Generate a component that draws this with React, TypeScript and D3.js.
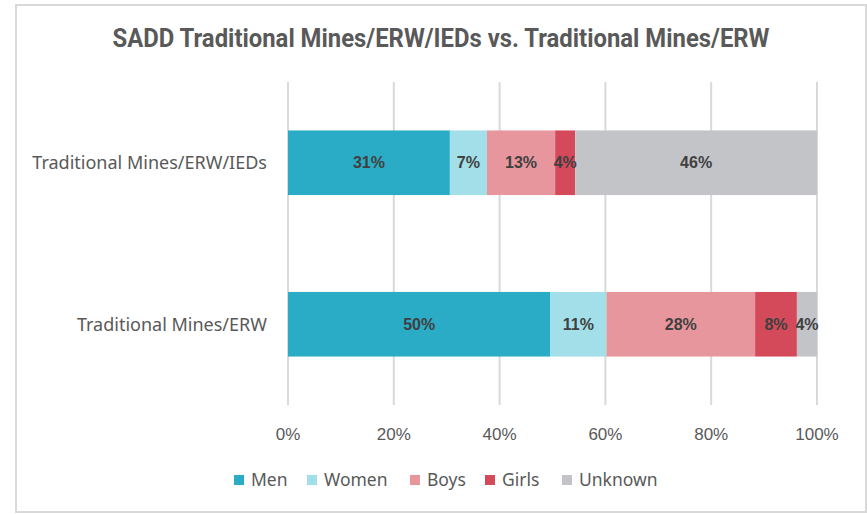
import * as d3 from 'd3'
import { useRef, useEffect } from 'react'

const categories = ['Traditional Mines/ERW/IEDs', 'Traditional Mines/ERW']
const groups = ['Men', 'Women', 'Boys', 'Girls', 'Unknown']
const colors = ['#2BACC6', '#A2DFE8', '#E7969D', '#D44A5A', '#C3C4C8']
// share of casualties (%) per group, one array per category
const minesErwIeds = [30.6, 7.0, 12.9, 3.8, 45.7]
const minesErw = [49.6, 10.6, 28.1, 7.9, 3.8]
const xTicks = [0, 20, 40, 60, 80, 100]

const W = 867
const H = 514

export default function App() {
  const svgRef = useRef<SVGSVGElement>(null)

  useEffect(() => {
    const svg = d3.select(svgRef.current)
    svg.selectAll('*').remove()

    const margins = { left: 288, right: 50, top: 82, bottom: 109 }
    const widthPlot = W - margins.left - margins.right
    const heightPlot = H - margins.top - margins.bottom

    // chart frame
    svg.append('rect')
      .attr('x', 16).attr('y', 5)
      .attr('width', W - 17).attr('height', H - 7)
      .attr('fill', 'white')
      .attr('stroke', '#d9d9d9').attr('stroke-width', 2)

    svg.append('text')
      .attr('x', 441).attr('y', 47)
      .attr('text-anchor', 'middle')
      .attr('font-family', 'Roboto, sans-serif')
      .attr('font-weight', 'bold')
      .attr('font-size', 25)
      .attr('textLength', 657)
      .attr('lengthAdjust', 'spacingAndGlyphs')
      .attr('fill', '#595959')
      .text('SADD Traditional Mines/ERW/IEDs vs. Traditional Mines/ERW')

    const g = svg.append('g').attr('transform', `translate(${margins.left}, ${margins.top})`)

    const scaleX = d3.scaleLinear().domain([0, 100]).range([0, widthPlot])
    const scaleY = d3.scaleBand().domain(categories).range([0, heightPlot]).paddingInner(0.6).paddingOuter(0.3)

    // gridlines
    g.selectAll('.grid')
      .data(xTicks)
      .join('line')
      .attr('class', 'grid')
      .attr('x1', d => scaleX(d)).attr('x2', d => scaleX(d))
      .attr('y1', 0).attr('y2', heightPlot)
      .attr('stroke', '#d9d9d9').attr('stroke-width', 2)

    g.selectAll('.tick-label')
      .data(xTicks)
      .join('text')
      .attr('class', 'tick-label')
      .attr('x', d => scaleX(d))
      .attr('y', heightPlot + 35)
      .attr('text-anchor', 'middle')
      .attr('font-family', '"Liberation Sans", Arial, sans-serif')
      .attr('font-size', 17)
      .attr('fill', '#595959')
      .text(d => `${d}%`)

    const rows = [minesErwIeds, minesErw]
    const stacked = rows.map((vals, i) => {
      let acc = 0
      return vals.map((v, j) => {
        const seg = { cat: categories[i], group: j, x0: acc, x1: acc + v, v }
        acc += v
        return seg
      })
    }).flat()

    g.selectAll('.seg')
      .data(stacked)
      .join('rect')
      .attr('class', 'seg')
      .attr('x', d => scaleX(d.x0))
      .attr('width', d => scaleX(d.x1) - scaleX(d.x0))
      .attr('y', d => scaleY(d.cat)!)
      .attr('height', scaleY.bandwidth())
      .attr('fill', d => colors[d.group])

    g.selectAll('.seg-label')
      .data(stacked)
      .join('text')
      .attr('class', 'seg-label')
      .attr('x', d => scaleX((d.x0 + d.x1) / 2))
      .attr('y', d => scaleY(d.cat)! + scaleY.bandwidth() / 2)
      .attr('dy', '0.35em')
      .attr('text-anchor', 'middle')
      .attr('font-family', '"Liberation Sans", Arial, sans-serif')
      .attr('font-weight', 'bold')
      .attr('font-size', 16)
      .attr('fill', '#404040')
      .text(d => `${Math.round(d.v)}%`)

    g.selectAll('.cat-label')
      .data(categories)
      .join('text')
      .attr('class', 'cat-label')
      .attr('x', -21)
      .attr('y', d => scaleY(d)! + scaleY.bandwidth() / 2)
      .attr('dy', '0.35em')
      .attr('text-anchor', 'end')
      .attr('font-family', '"Noto Sans", Lato, sans-serif')
      .attr('font-size', 18)
      .attr('fill', '#595959')
      .text(d => d)

    // legend
    const legendX = [234, 307, 410, 485, 562]
    const lg = svg.selectAll('.legend')
      .data(groups)
      .join('g')
      .attr('class', 'legend')
      .attr('transform', (d, i) => `translate(${legendX[i]}, 480)`)
    lg.append('rect')
      .attr('x', 0).attr('y', -5)
      .attr('width', 10).attr('height', 10)
      .attr('fill', (d, i) => colors[i])
    lg.append('text')
      .attr('x', 17).attr('y', 0).attr('dy', '0.35em')
      .attr('font-family', '"Noto Sans", Lato, sans-serif')
      .attr('font-size', 17.5)
      .attr('fill', '#595959')
      .text(d => d)
  }, [])

  return (
    <svg ref={svgRef} width={W} height={H} style={{ position: 'absolute', left: 0, top: 0 }}></svg>
  )
}
